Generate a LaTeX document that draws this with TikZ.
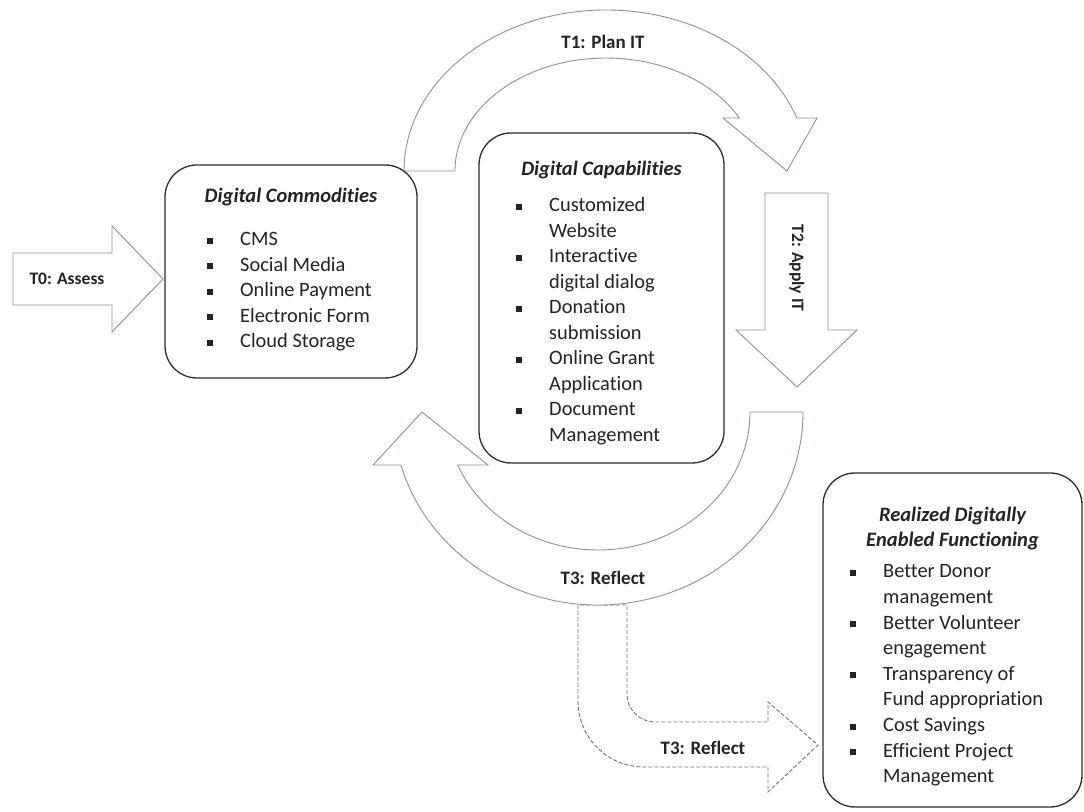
\documentclass[tikz,border=0pt]{standalone}
\usepackage{fontspec}
\setmainfont{Carlito}[Ligatures=NoCommon]
\definecolor{bandline}{RGB}{135,148,162}
\definecolor{boxline}{RGB}{45,45,45}
\definecolor{txt}{RGB}{35,35,35}
% square bullet hanging in front of the item text
\newcommand\bul{\llap{\rule[2pt]{6pt}{6pt}\hspace{27pt}}}
\begin{document}
\begin{tikzpicture}[x=1pt,y=1pt,
    band/.style={draw=bandline,fill=white,line width=0.9pt},
    box/.style={draw=boxline,fill=white,line width=1.3pt,rounded corners=32pt,inner sep=0},
    lbl/.style={font=\bfseries\fontsize{#1}{22}\selectfont,text=txt},
    lbl/.default=19,
    ttl/.style={font=\bfseries\itshape\fontsize{20.5}{25}\selectfont,text=txt,anchor=base},
    itm/.style={font=\fontsize{20.4}{25}\selectfont,text=txt,anchor=base west,inner sep=0}]
\path[use as bounding box,fill=white] (0,0) rectangle (1084,811);

% T1 arc over the top
\draw[band] (404,640) arc[start angle=180,end angle=19.2,x radius=202,y radius=161]
    -- (817,693) -- (787,640) -- (723,693) -- (739.3,693)
    arc[start angle=28,end angle=180,x radius=151,y radius=113] -- cycle;
\node[lbl] (t1) at (603,769) {T1: Plan IT};

% T3 bent dashed arrow, then the T3 arc under it
\draw[band,draw=bandline!80!black,dash pattern=on 4pt off 2pt] (578,206) -- (578,110)
    arc[start angle=180,end angle=270,radius=66] -- (768,44) -- (768,19) -- (818,66)
    -- (768,109) -- (768,89) -- (655,89)
    arc[start angle=270,end angle=180,radius=28] -- (627,206) -- cycle;
\node[lbl] (t3b) at (703,63) {T3: Reflect};

\draw[band] (750,399) arc[start angle=0,end angle=-157.4,x radius=152,y radius=138]
    -- (488,346) -- (422,399) -- (373,346) -- (400.9,346)
    arc[start angle=-164.06,end angle=0,x radius=205,y radius=193] -- cycle;
\node[lbl] (t3) at (603,233) {T3: Reflect};

% T2 down arrow
\draw[band] (765,618) -- (828,618) -- (828,481) -- (857,481) -- (797,424)
    -- (736,481) -- (765,481) -- cycle;
\node[lbl=17.5,rotate=-90] (t2) at (797,543) {T2: Apply IT};

% T0 arrow
\draw[band] (13,506) -- (13,558) -- (112,558) -- (112,585) -- (163,532)
    -- (112,479) -- (112,506) -- cycle;
\node[lbl=17.5] (t0) at (67,532) {T0: Assess};

% boxes
\node[box,minimum width=252,minimum height=213] (comm) at (291,539.5) {};
\node[ttl] (commT) at (291,608) {Digital Commodities};
\foreach \t [count=\i from 0] in {\bul CMS,\bul Social Media,\bul Online Payment,
    \bul Electronic Form,\bul Cloud Storage}
  \node[itm] (comm\i) at (240,{565-25.5*\i}) {\t};

\node[box,minimum width=245,minimum height=330] (capab) at (601.5,513) {};
\node[ttl] (capabT) at (601.5,635) {Digital Capabilities};
\foreach \t [count=\i from 0] in {\bul Customized,Website,\bul Interactive,digital dialog,
    \bul Donation,submission,\bul Online Grant,Application,\bul Document,Management}
  \node[itm] (capab\i) at (549,{599-25.5*\i}) {\t};

\node[box,minimum width=259,minimum height=334] (real) at (952.5,171) {};
\node[ttl] (realT) at (952.5,289) {Realized Digitally};
\node[ttl] (realU) at (952.5,264) {Enabled Functioning};
\foreach \t [count=\i from 0] in {\bul Better Donor,management,\bul Better Volunteer,
    engagement,\bul Transparency of,Fund appropriation,\bul Cost Savings,
    \bul Efficient Project,Management}
  \node[itm] (real\i) at (883,{233-25.6*\i}) {\t};
\end{tikzpicture}
\end{document}
